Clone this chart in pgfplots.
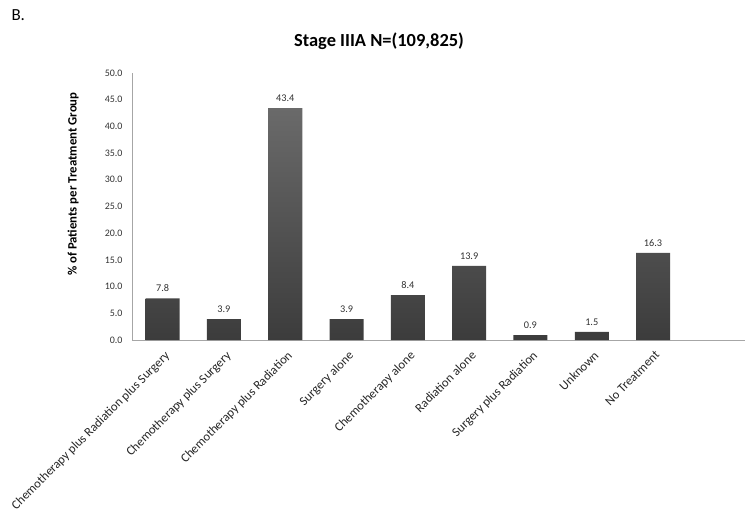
\documentclass[border=0pt]{standalone}
\usepackage{pgfplots}
\pgfplotsset{compat=1.18}
\usepackage{fontspec}
\setmainfont{Carlito}
\definecolor{axgray}{HTML}{A6A6A6}
\definecolor{bartop}{HTML}{6A6A6A}
\definecolor{barbot}{HTML}{3C3C3C}
\begin{document}
\begin{tikzpicture}[x=1bp,y=1bp]
\begin{axis}[
  at={(0,0)}, anchor=south west,
  scale only axis,
  width=613bp, height=267bp,
  xmin=-0.5, xmax=9.5,
  ymin=0, ymax=50,
  ytick={0,5,...,50},
  xtick={0,...,8},
  xticklabels={Chemotherapy plus Radiation plus Surgery,Chemotherapy plus Surgery,Chemotherapy plus Radiation,Surgery alone,Chemotherapy alone,Radiation alone,Surgery plus Radiation,Unknown,No Treatment},
  axis x line*=bottom,
  axis y line*=left,
  axis line style={axgray, line width=0.6pt},
  x axis line style={-},
  y axis line style={-},
  major tick length=0bp,
  ytick style={draw=none},
  xtick style={draw=none},
  /pgf/number format/assume math mode=true,
  yticklabel={\pgfmathprintnumber[fixed,fixed zerofill,precision=1]{\tick}},
  yticklabel style={font=\fontsize{10}{12}\selectfont, color=black!80, anchor=east, xshift=-6bp},
  xticklabel style={rotate=45, anchor=north east, font=\fontsize{12.7}{14}\selectfont, color=black!85, inner sep=1bp, xshift=-5bp, yshift=-7bp},
  ylabel={\bfseries \% of Patients per Treatment Group},
  ylabel style={at={(axis description cs:-0.096,0.584)}, rotate=0, anchor=center, font=\fontsize{12.8}{14}\selectfont},
  title={\bfseries Stage IIIA N=(109,825)},
  title style={at={(axis description cs:0.403,1.097)}, anchor=center, font=\fontsize{18.5}{21}\selectfont},
  nodes near coords={\pgfmathprintnumber[fixed,fixed zerofill,precision=1]{\pgfplotspointmeta}},
  nodes near coords style={font=\fontsize{10.3}{12}\selectfont, color=black!80, anchor=south, yshift=3bp},
  clip=false,
]
\addplot[ybar, bar width=34bp, draw=none, top color=bartop, bottom color=barbot]
  coordinates {(0,7.8) (1,3.9) (2,43.4) (3,3.9) (4,8.4) (5,13.9) (6,0.9) (7,1.5) (8,16.3)};
\end{axis}
\node[anchor=west, font=\fontsize{17}{19}\selectfont] at (-124bp,325bp) {B.};
\pgfresetboundingbox
\path[use as bounding box] (-132bp,-177bp) rectangle (622bp,340bp);
\end{tikzpicture}
\end{document}
